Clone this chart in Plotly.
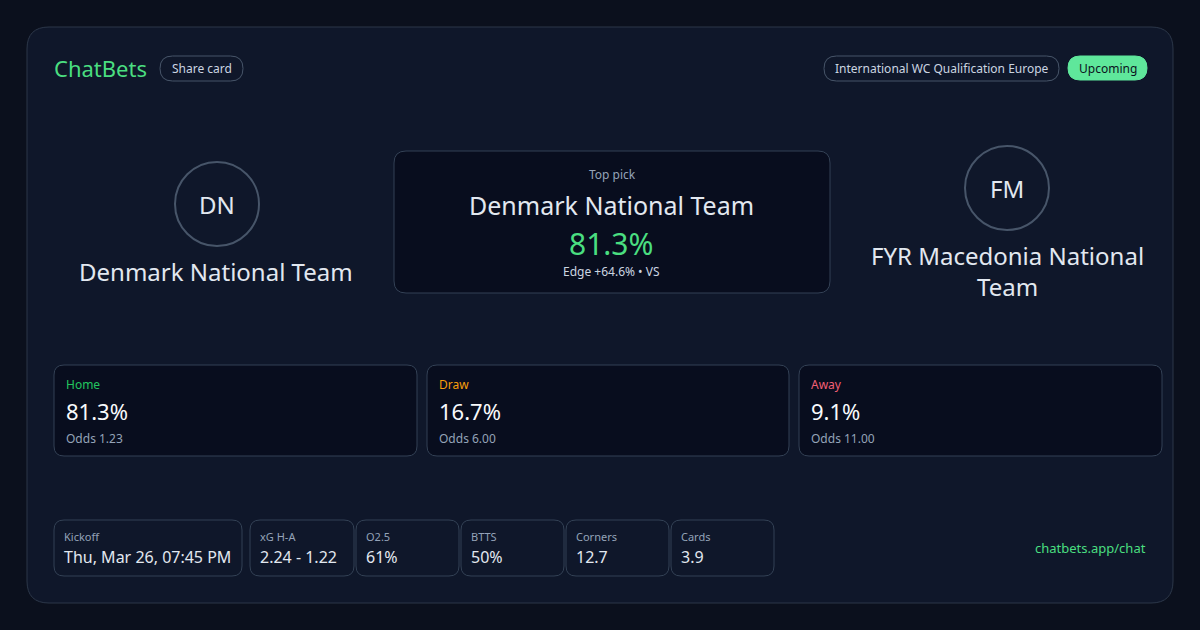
import plotly.graph_objects as go

# match card data
brand = "ChatBets"
share_label = "Share card"
competition = "International WC Qualification Europe"
status = "Upcoming"
home_team = "Denmark National Team"
home_abbr = "DN"
away_team = "FYR Macedonia National<br>Team"
away_abbr = "FM"
top_pick = "Denmark National Team"
top_prob = 81.3
edge = 64.6
edge_src = "VS"

outcome_labels = ["Home", "Draw", "Away"]
outcome_probs = [81.3, 16.7, 9.1]
outcome_odds = [1.23, 6.00, 11.00]

stat_labels = ["Kickoff", "xG H-A", "O2.5", "BTTS", "Corners", "Cards"]
stat_values = ["Thu, Mar 26, 07:45 PM", "2.24 - 1.22", "61%", "50%", "12.7", "3.9"]

footer_link = "chatbets.app/chat"

FONT = "Noto Sans"
GREEN = "#4ade80"
PILL_GREEN = "#5fe79b"
BORDER = "#334155"
MUTED = "#94a3b8"
TEXT = "#e2e8f0"
DARK_BOX = "#080d1e"
outcome_colors = ["#22c55e", "#f59e0b", "#f25f75"]


def rrect(x0, y0, x1, y1, r):
    return (f"M {x0+r},{y0} L {x1-r},{y0} Q {x1},{y0} {x1},{y0+r} "
            f"L {x1},{y1-r} Q {x1},{y1} {x1-r},{y1} L {x0+r},{y1} "
            f"Q {x0},{y1} {x0},{y1-r} L {x0},{y0+r} Q {x0},{y0} {x0+r},{y0} Z")


shapes = []
annots = []


def box(x0, y0, x1, y1, r, fill, line=BORDER, width=1):
    shapes.append(dict(type="path", path=rrect(x0, y0, x1, y1, r), xref="x", yref="y",
                       fillcolor=fill, line=dict(color=line, width=width), layer="below"))


def txt(x, y, s, size, color, anchor="left"):
    # annotations carry a couple of px padding; nudge edge-anchored text
    if anchor == "left":
        x -= 2
    elif anchor == "right":
        x += 2
    annots.append(dict(x=x, y=y, xref="x", yref="y", text=s, showarrow=False,
                       xanchor=anchor, yanchor="middle",
                       font=dict(family=FONT, size=size, color=color)))


# outer card
box(27, 27, 1173, 603, 22, "#0f172a", "#2c3749")

# header
txt(54, 68, brand, 22, GREEN)
box(160, 56, 243, 81, 12.5, "rgba(0,0,0,0)", "#475569")
txt(201.5, 68.5, share_label, 12, "#cbd5e1", "center")
box(824, 56, 1059, 81, 12.5, "rgba(0,0,0,0)", "#475569")
txt(941.5, 68.5, competition, 12, "#cbd5e1", "center")
box(1068, 56, 1147, 80, 12, PILL_GREEN, PILL_GREEN)
txt(1107.5, 68.5, status, 12, "#0b1220", "center")

# teams
for cx, cy, abbr in [(217, 204, home_abbr), (1007, 188, away_abbr)]:
    shapes.append(dict(type="circle", xref="x", yref="y", x0=cx-42, x1=cx+42, y0=cy-42, y1=cy+42,
                       line=dict(color="#475569", width=2), fillcolor="rgba(0,0,0,0)"))
    txt(cx, cy, abbr, 24, TEXT, "center")
txt(216, 271, home_team, 24, TEXT, "center")
txt(1007, 270.5, away_team, 24, TEXT, "center")

# top pick panel
box(394, 151, 830, 293, 12, DARK_BOX)
txt(612, 174, "Top pick", 12, MUTED, "center")
txt(611, 205, top_pick, 25, TEXT, "center")
txt(611, 243, f"{top_prob:.1f}%", 30, GREEN, "center")
txt(611, 271, f"Edge +{edge:.1f}% \u2022 {edge_src}", 12, "#cbd5e1", "center")

# outcome boxes
ox = [(54, 417), (427, 789), (799, 1162)]
for (x0, x1), lab, p, o, c in zip(ox, outcome_labels, outcome_probs, outcome_odds, outcome_colors):
    box(x0, 365, x1, 456, 10, DARK_BOX)
    txt(x0 + 12, 384, lab, 12, c)
    txt(x0 + 12, 411, f"{p:.1f}%", 22, "#f8fafc")
    txt(x0 + 12, 438, f"Odds {o:.2f}", 12, MUTED)

# stat chips
sx = [(54, 242), (250, 354), (356, 459), (461, 564), (566, 669), (671, 774)]
for (x0, x1), lab, v in zip(sx, stat_labels, stat_values):
    box(x0, 520, x1, 576, 10, "rgba(0,0,0,0)")
    txt(x0 + 10, 536, lab, 11, MUTED)
    txt(x0 + 10, 557, v, 16, TEXT)

txt(1146, 548, footer_link, 13, GREEN, "right")

fig = go.Figure()
fig.add_trace(go.Scatter(x=[0, 1200], y=[0, 630], mode="markers", marker=dict(opacity=0),
                         hoverinfo="skip", showlegend=False))
fig.update_layout(
    width=1200, height=630,
    margin=dict(l=0, r=0, t=0, b=0),
    paper_bgcolor="#0b101d", plot_bgcolor="#0b101d",
    xaxis=dict(range=[0, 1200], visible=False, fixedrange=True),
    yaxis=dict(range=[630, 0], visible=False, fixedrange=True),
    shapes=shapes, annotations=annots, showlegend=False,
)
fig.write_html("out.html", config={"displayModeBar": False},
               post_script="document.body.style.margin='0';document.body.style.background='#0b101d';")
